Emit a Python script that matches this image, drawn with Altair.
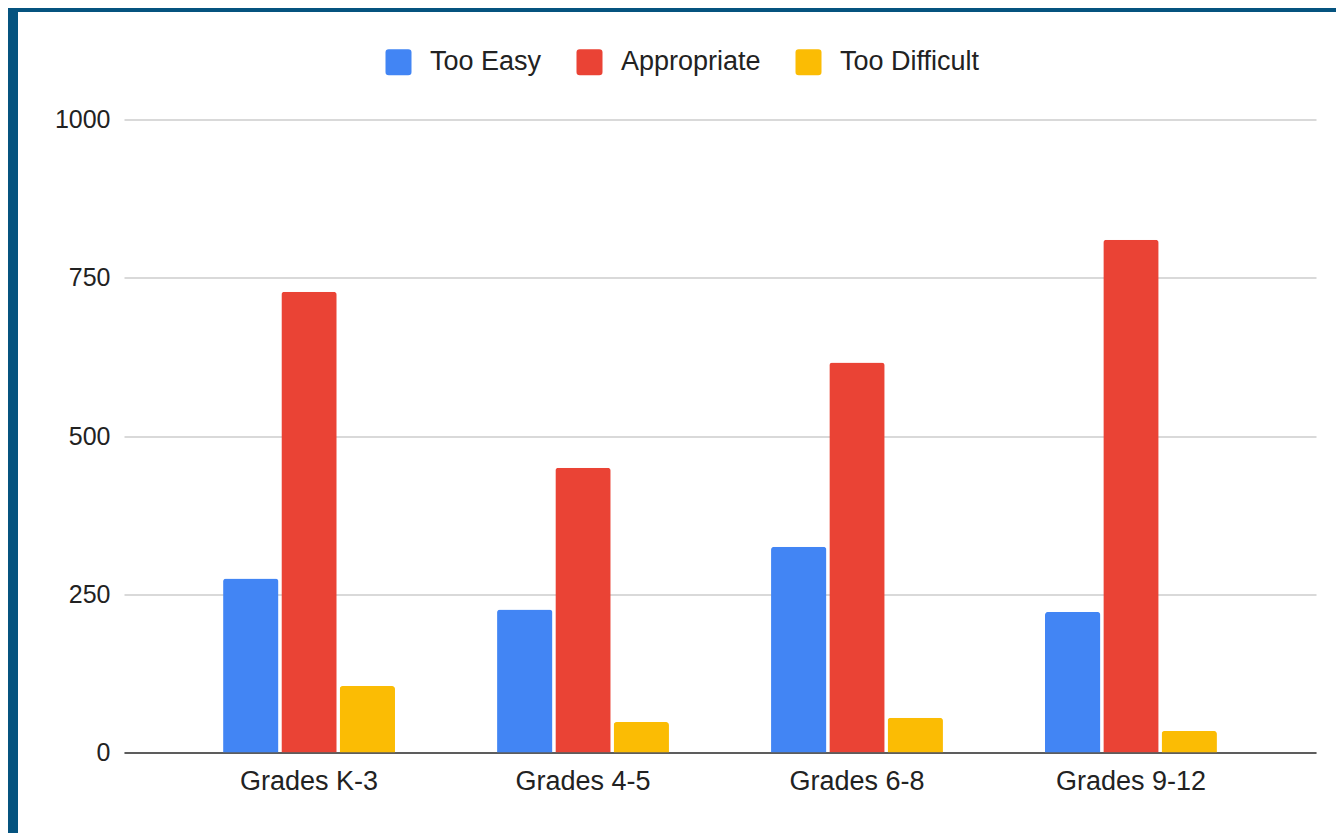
import altair as alt
import pandas as pd

categories = ["Grades K-3", "Grades 4-5", "Grades 6-8", "Grades 9-12"]
series = ["Too Easy", "Appropriate", "Too Difficult"]
too_easy = [275, 226, 325, 222]
appropriate = [728, 450, 616, 810]
too_difficult = [105, 48, 55, 34]
colors = ["#4285F4", "#EA4335", "#FBBC04"]
y_ticks = [0, 250, 500, 750, 1000]

rows = []
for s, vals in zip(series, [too_easy, appropriate, too_difficult]):
    for c, v in zip(categories, vals):
        rows.append({"grade": c, "series": s, "value": v})
df = pd.DataFrame(rows)

W, H = 1192, 633
PL, PT = 116, 111.5
FONT = "Liberation Sans, Arial, sans-serif"

rounded_sq = ("M -0.75 -1 L 0.75 -1 Q 1 -1 1 -0.75 L 1 0.75 Q 1 1 0.75 1 "
              "L -0.75 1 Q -1 1 -1 0.75 L -1 -0.75 Q -1 -1 -0.75 -1 Z")

bars = alt.Chart(df).mark_bar(
    cornerRadiusTopLeft=3, cornerRadiusTopRight=3
).encode(
    x=alt.X("grade:N", sort=categories, title=None,
            scale=alt.Scale(paddingInner=0.3725, paddingOuter=0.3616),
            axis=alt.Axis(labelAngle=0, labelFontSize=27, labelFont=FONT,
                          labelColor="#222222", labelPadding=16, ticks=False,
                          domainColor="#333333", domainWidth=1.5, grid=False)),
    xOffset=alt.XOffset("series:N", sort=series,
                        scale=alt.Scale(domain=series, paddingInner=0.05, paddingOuter=0)),
    y=alt.Y("value:Q", title=None,
            scale=alt.Scale(domain=[0, 1000], nice=False),
            axis=alt.Axis(values=y_ticks, format="d", labelFontSize=25, labelFont=FONT,
                          labelColor="#222222", labelPadding=14, ticks=False,
                          domain=False, gridColor="#cccccc", gridWidth=1.5)),
    color=alt.Color("series:N", sort=series,
                    scale=alt.Scale(domain=series, range=colors),
                    legend=alt.Legend(title=None, orient="none", direction="horizontal",
                                      legendX=261, legendY=-71,
                                      symbolType=rounded_sq, symbolSize=676,
                                      symbolStrokeWidth=0, labelFontSize=27,
                                      labelFont=FONT, labelColor="#222222",
                                      labelOffset=18, columnPadding=34, padding=0)),
)

band = alt.Chart(alt.Data(values=[{"k": 1}])).mark_rect(color="#05537f").encode(
    x=alt.value(-PL), x2=alt.value(-PL + 10),
    y=alt.value(-PT), y2=alt.value(H + 90),
)
topband = alt.Chart(alt.Data(values=[{"k": 1}])).mark_rect(color="#05537f").encode(
    x=alt.value(-PL), x2=alt.value(W + 20),
    y=alt.value(-PT), y2=alt.value(-PT + 4),
)

chart = alt.layer(band, topband, bars).properties(
    width=W, height=H,
    autosize=alt.AutoSizeParams(type="none"),
    padding={"left": PL, "top": PT, "right": 20, "bottom": 80},
    background="white",
).configure_view(stroke=None)

chart.save("out.html", embed_options={"renderer": "svg", "actions": False})
